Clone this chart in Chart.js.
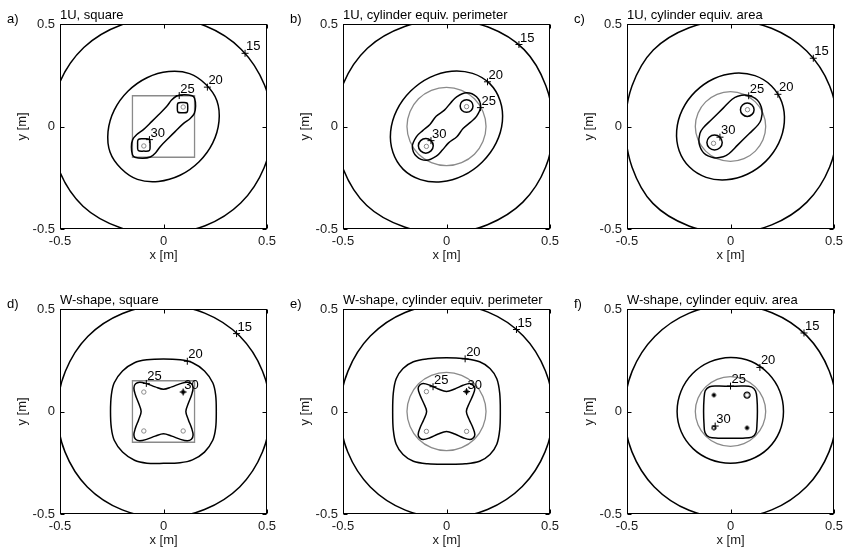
<!DOCTYPE html>
<html>
<head>
<meta charset="utf-8">
<script src="https://cdn.jsdelivr.net/npm/chart.js@4/dist/chart.umd.min.js"></script>
<style>
  html, body { margin: 0; padding: 0; background: #fff; width: 844px; height: 556px; overflow: hidden; }
  canvas.panel { position: absolute; }
</style>
</head>
<body>
<canvas id="pa" class="panel" width="283" height="270" style="left:0px;top:0px"></canvas>
<canvas id="pb" class="panel" width="283" height="270" style="left:283px;top:0px"></canvas>
<canvas id="pc" class="panel" width="283" height="270" style="left:567px;top:0px"></canvas>
<canvas id="pd" class="panel" width="283" height="270" style="left:0px;top:285px"></canvas>
<canvas id="pe" class="panel" width="283" height="270" style="left:283px;top:285px"></canvas>
<canvas id="pf" class="panel" width="283" height="270" style="left:567px;top:285px"></canvas>
<script>
// ---- contour levels, axes, panel captions ----
const levels = [15, 20, 25, 30];
const axisTicks = [-0.5, 0, 0.5];
const panelLetters = ['a)', 'b)', 'c)', 'd)', 'e)', 'f)'];
const panelTitles = [
  '1U, square',
  '1U, cylinder equiv. perimeter',
  '1U, cylinder equiv. area',
  'W-shape, square',
  'W-shape, cylinder equiv. perimeter',
  'W-shape, cylinder equiv. area'
];

// ---- a) 1U, square ----
const a15 = [[0.525,0],[0.488,0.202],[0.376,0.376],[0.203,0.490],[0,0.528],[-0.205,0.495],[-0.385,0.385],[-0.504,0.209],[-0.545,0],[-0.506,-0.210],[-0.389,-0.389],[-0.205,-0.495],[0,-0.522],[0.201,-0.484],[0.373,-0.373],[0.486,-0.201]];
const a20 = [[0.205,0.205],[0.126,0.258],[0.025,0.268],[-0.080,0.238],[-0.172,0.172],[-0.238,0.080],[-0.268,-0.025],[-0.258,-0.126],[-0.205,-0.205],[-0.126,-0.258],[-0.025,-0.268],[0.080,-0.238],[0.172,-0.172],[0.238,-0.080],[0.268,0.025],[0.258,0.126]];
const a25 = [[0.149,0.064],[0.155,0.100],[0.150,0.138],[0.138,0.150],[0.100,0.155],[0.064,0.149],[0.039,0.129],[0.015,0.097],[-0.025,0.056],[-0.056,0.025],[-0.097,-0.015],[-0.129,-0.039],[-0.149,-0.064],[-0.155,-0.100],[-0.150,-0.138],[-0.138,-0.150],[-0.100,-0.155],[-0.064,-0.149],[-0.039,-0.129],[-0.015,-0.097],[0.025,-0.056],[0.056,-0.025],[0.097,0.015],[0.129,0.039]];
const a30 = [
  [[0.117,0.092],[0.114,0.114],[0.092,0.117],[0.070,0.114],[0.067,0.092],[0.070,0.070],[0.092,0.067],[0.114,0.070]],
  [[-0.065,-0.090],[-0.068,-0.063],[-0.095,-0.060],[-0.122,-0.063],[-0.125,-0.090],[-0.122,-0.117],[-0.095,-0.120],[-0.068,-0.117]]
];
const aBody = [[-0.15,-0.15],[0.15,-0.15],[0.15,0.15],[-0.15,0.15]];
const aRods = [[0.095,0.095],[-0.095,-0.095]];
const aDots = [];
const aLabels = [[0.394,0.357],[0.212,0.192],[0.076,0.151],[-0.068,-0.064]];

// ---- b) 1U, cylinder equiv. perimeter ----
const b15 = [[0.515,0],[0.480,0.199],[0.375,0.375],[0.201,0.485],[0,0.520],[-0.202,0.488],[-0.382,0.382],[-0.499,0.207],[-0.535,0],[-0.499,-0.207],[-0.385,-0.385],[-0.203,-0.490],[0,-0.520],[0.198,-0.479],[0.369,-0.369],[0.479,-0.198]];
const b20 = [[0.209,0.209],[0.126,0.259],[0.025,0.270],[-0.080,0.240],[-0.173,0.173],[-0.240,0.080],[-0.270,-0.025],[-0.259,-0.126],[-0.209,-0.209],[-0.126,-0.259],[-0.025,-0.270],[0.080,-0.240],[0.173,-0.173],[0.240,-0.080],[0.270,0.025],[0.259,0.126]];
const b25 = [[0.145,0.049],[0.165,0.097],[0.145,0.145],[0.097,0.165],[0.049,0.145],[0.020,0.115],[-0.010,0.080],[-0.050,0.050],[-0.080,0.010],[-0.115,-0.020],[-0.145,-0.049],[-0.165,-0.097],[-0.145,-0.145],[-0.097,-0.165],[-0.049,-0.145],[-0.020,-0.115],[0.010,-0.080],[0.050,-0.050],[0.080,-0.010],[0.115,0.020]];
const b30 = [
  [[0.128,0.100],[0.119,0.122],[0.097,0.131],[0.075,0.122],[0.066,0.100],[0.075,0.078],[0.097,0.069],[0.119,0.078]],
  [[-0.064,-0.094],[-0.075,-0.069],[-0.100,-0.058],[-0.125,-0.069],[-0.136,-0.094],[-0.125,-0.119],[-0.100,-0.130],[-0.075,-0.119]]
];
const bBody = [[0.191,0],[0.176,0.073],[0.135,0.135],[0.073,0.176],[0,0.191],[-0.073,0.176],[-0.135,0.135],[-0.176,0.073],[-0.191,0],[-0.176,-0.073],[-0.135,-0.135],[-0.073,-0.176],[0,-0.191],[0.073,-0.176],[0.135,-0.135],[0.176,-0.073]];
const bRods = [[0.097,0.097],[-0.097,-0.097]];
const bDots = [];
const bLabels = [[0.350,0.400],[0.198,0.218],[0.164,0.092],[-0.075,-0.069]];

// ---- c) 1U, cylinder equiv. area ----
const c15 = [[0.516,0],[0.479,0.198],[0.368,0.368],[0.198,0.479],[0,0.517],[-0.200,0.482],[-0.373,0.373],[-0.476,0.197],[-0.507,0],[-0.476,-0.197],[-0.375,-0.375],[-0.201,-0.485],[0,-0.520],[0.199,-0.480],[0.369,-0.369],[0.479,-0.198]];
const c20 = [[0.198,0.198],[0.118,0.248],[0.020,0.260],[-0.081,0.233],[-0.170,0.170],[-0.233,0.081],[-0.260,-0.020],[-0.248,-0.118],[-0.198,-0.198],[-0.118,-0.248],[-0.020,-0.260],[0.081,-0.233],[0.170,-0.170],[0.233,-0.081],[0.260,0.020],[0.248,0.118]];
const c25 = [[0.129,0.129],[0.081,0.152],[0.035,0.148],[0.008,0.133],[-0.034,0.091],[-0.091,0.034],[-0.133,-0.008],[-0.148,-0.035],[-0.152,-0.081],[-0.129,-0.129],[-0.081,-0.152],[-0.035,-0.148],[-0.008,-0.133],[0.034,-0.091],[0.091,-0.034],[0.133,0.008],[0.148,0.035],[0.152,0.081]];
const c30 = [
  [[0.114,0.082],[0.104,0.105],[0.081,0.115],[0.058,0.105],[0.048,0.082],[0.058,0.059],[0.081,0.049],[0.104,0.059]],
  [[-0.040,-0.078],[-0.051,-0.052],[-0.077,-0.041],[-0.103,-0.052],[-0.114,-0.078],[-0.103,-0.104],[-0.077,-0.115],[-0.051,-0.104]]
];
const cBody = [[0.170,0],[0.157,0.065],[0.120,0.120],[0.065,0.157],[0,0.170],[-0.065,0.157],[-0.120,0.120],[-0.157,0.065],[-0.170,0],[-0.157,-0.065],[-0.120,-0.120],[-0.065,-0.157],[0,-0.170],[0.065,-0.157],[0.120,-0.120],[0.157,-0.065]];
const cRods = [[0.082,0.082],[-0.082,-0.082]];
const cDots = [];
const cLabels = [[0.400,0.333],[0.229,0.157],[0.088,0.150],[-0.051,-0.052]];

// ---- d) W-shape, square ----
const d15 = [[0.516,0],[0.478,0.198],[0.368,0.368],[0.199,0.480],[0,0.518],[-0.198,0.478],[-0.366,0.366],[-0.474,0.196],[-0.513,0],[-0.476,-0.197],[-0.368,-0.368],[-0.199,-0.480],[0,-0.518],[0.198,-0.478],[0.368,-0.368],[0.478,-0.198]];
const d20 = [[0.255,0],[0.252,0.080],[0.238,0.140],[0.198,0.198],[0.140,0.238],[0.080,0.252],[0,0.256],[-0.080,0.252],[-0.140,0.238],[-0.198,0.198],[-0.238,0.140],[-0.252,0.080],[-0.256,0],[-0.252,-0.080],[-0.238,-0.140],[-0.198,-0.198],[-0.140,-0.238],[-0.080,-0.252],[0,-0.253],[0.080,-0.250],[0.140,-0.236],[0.198,-0.198],[0.238,-0.140],[0.252,-0.080]];
const d25 = [
  [0.108,0],[0.120,0.040],[0.136,0.082],[0.143,0.115],[0.135,0.135],[0.115,0.143],[0.082,0.136],[0.040,0.120],
  [0,0.108],[-0.040,0.120],[-0.082,0.136],[-0.115,0.143],[-0.135,0.135],[-0.143,0.115],[-0.136,0.082],[-0.120,0.040],
  [-0.108,0],[-0.120,-0.040],[-0.136,-0.082],[-0.143,-0.115],[-0.135,-0.135],[-0.115,-0.143],[-0.082,-0.136],[-0.040,-0.120],
  [0,-0.108],[0.040,-0.120],[0.082,-0.136],[0.115,-0.143],[0.135,-0.135],[0.143,-0.115],[0.136,-0.082],[0.120,-0.040]
];
const d30 = [];
const dBody = [[-0.15,-0.15],[0.15,-0.15],[0.15,0.15],[-0.15,0.15]];
const dRods = [[-0.095,0.095],[0.095,0.095],[-0.095,-0.095],[0.095,-0.095]];
const dDots = [[0.095,0.095]];
const dLabels = [[0.353,0.380],[0.115,0.245],[-0.083,0.137],[0.095,0.095]];

// ---- e) W-shape, cylinder equiv. perimeter ----
const e15 = [[0.515,0],[0.478,0.198],[0.370,0.370],[0.201,0.485],[0,0.522],[-0.200,0.483],[-0.368,0.368],[-0.476,0.197],[-0.515,0],[-0.477,-0.198],[-0.368,-0.368],[-0.199,-0.481],[0,-0.518],[0.198,-0.478],[0.366,-0.366],[0.476,-0.197]];
const e20 = [[0.260,0],[0.257,0.090],[0.243,0.160],[0.210,0.210],[0.160,0.243],[0.090,0.257],[0,0.262],[-0.090,0.257],[-0.160,0.243],[-0.210,0.210],[-0.243,0.160],[-0.257,0.090],[-0.260,0],[-0.257,-0.090],[-0.243,-0.160],[-0.210,-0.210],[-0.160,-0.243],[-0.090,-0.255],[0,-0.257],[0.090,-0.255],[0.160,-0.243],[0.210,-0.210],[0.243,-0.160],[0.257,-0.090]];
const e25 = [
  [0.096,0],[0.110,0.040],[0.128,0.080],[0.137,0.112],[0.129,0.129],[0.112,0.137],[0.080,0.128],[0.040,0.110],
  [0,0.098],[-0.040,0.110],[-0.080,0.128],[-0.112,0.137],[-0.129,0.129],[-0.137,0.112],[-0.128,0.080],[-0.110,0.040],
  [-0.096,0],[-0.110,-0.040],[-0.128,-0.080],[-0.137,-0.112],[-0.129,-0.129],[-0.112,-0.137],[-0.080,-0.128],[-0.040,-0.110],
  [0,-0.098],[0.040,-0.110],[0.080,-0.128],[0.112,-0.137],[0.129,-0.129],[0.137,-0.112],[0.128,-0.080],[0.110,-0.040]
];
const e30 = [];
const eBody = [[0.191,0],[0.176,0.073],[0.135,0.135],[0.073,0.176],[0,0.191],[-0.073,0.176],[-0.135,0.135],[-0.176,0.073],[-0.191,0],[-0.176,-0.073],[-0.135,-0.135],[-0.073,-0.176],[0,-0.191],[0.073,-0.176],[0.135,-0.135],[0.176,-0.073]];
const eRods = [[-0.097,0.097],[0.097,0.097],[-0.097,-0.097],[0.097,-0.097]];
const eDots = [[0.097,0.097]];
const eLabels = [[0.338,0.400],[0.090,0.257],[-0.065,0.121],[0.097,0.097]];

// ---- f) W-shape, cylinder equiv. area ----
const f15 = [[0.514,0],[0.477,0.198],[0.369,0.369],[0.200,0.482],[0,0.520],[-0.199,0.480],[-0.366,0.366],[-0.475,0.197],[-0.513,0],[-0.476,-0.197],[-0.368,-0.368],[-0.200,-0.482],[0,-0.520],[0.199,-0.480],[0.367,-0.367],[0.476,-0.197]];
const f20 = [[0.256,0],[0.238,0.099],[0.184,0.184],[0.101,0.244],[0,0.264],[-0.100,0.242],[-0.184,0.184],[-0.239,0.099],[-0.258,0],[-0.238,-0.099],[-0.181,-0.181],[-0.097,-0.234],[0,-0.252],[0.097,-0.234],[0.181,-0.181],[0.237,-0.098]];
const f25 = [[0.130,0],[0.128,0.060],[0.121,0.100],[0.101,0.120],[0.060,0.124],[0,0.123],[-0.060,0.124],[-0.101,0.121],[-0.122,0.101],[-0.128,0.060],[-0.130,0],[-0.128,-0.060],[-0.123,-0.104],[-0.103,-0.125],[-0.060,-0.130],[0,-0.131],[0.060,-0.130],[0.103,-0.125],[0.123,-0.104],[0.128,-0.060]];
const f30 = [
  [[0.094,0.080],[0.090,0.090],[0.080,0.094],[0.070,0.090],[0.066,0.080],[0.070,0.070],[0.080,0.066],[0.090,0.070]],
  [[-0.071,-0.080],[-0.074,-0.074],[-0.080,-0.071],[-0.086,-0.074],[-0.089,-0.080],[-0.086,-0.086],[-0.080,-0.089],[-0.074,-0.086]]
];
const fBody = [[0.170,0],[0.157,0.065],[0.120,0.120],[0.065,0.157],[0,0.170],[-0.065,0.157],[-0.120,0.120],[-0.157,0.065],[-0.170,0],[-0.157,-0.065],[-0.120,-0.120],[-0.065,-0.157],[0,-0.170],[0.065,-0.157],[0.120,-0.120],[0.157,-0.065]];
const fRods = [[-0.080,0.080],[0.080,0.080],[-0.080,-0.080],[0.080,-0.080]];
const fDots = [[-0.080,0.080],[0.080,-0.080]];
const fLabels = [[0.355,0.383],[0.142,0.215],[0.000,0.124],[-0.074,-0.071]];

// ---- styling ----
const INK = '#000';
const GRAY = '#8a8a8a';
const FONT = '"Liberation Sans", Arial, Helvetica, sans-serif';
Chart.defaults.font.family = FONT;
Chart.defaults.font.size = 13;
Chart.defaults.color = '#1a1a1a';

// Line controller variant that closes the path smoothly (iso-lines are closed curves)
const BaseLine = Chart.LineController || Chart.controllers.line;
class ContourController extends BaseLine {
  update(mode) {
    const line = this._cachedMeta.dataset;
    if (line) { line._loop = true; line._fullLoop = true; }
    super.update(mode);
  }
}
ContourController.id = 'contour';
ContourController.defaults = { datasetElementType: 'line', dataElementType: 'point', showLine: true, spanGaps: false };
Chart.register(ContourController);

const xy = list => list.map(([x, y]) => ({ x, y }));

// axes box with inward ticks, panel letter, and the contour level numbers
const framePlugin = {
  id: 'frame',
  afterDatasetsDraw(chart) {
    const { ctx } = chart;
    chart.data.datasets.forEach((ds, i) => {
      if (!ds.levelTags) return;
      const meta = chart.getDatasetMeta(i);
      ctx.save();
      ctx.fillStyle = INK;
      ctx.font = '13px ' + FONT;
      ctx.textAlign = 'left';
      ctx.textBaseline = 'alphabetic';
      meta.data.forEach((pt, k) => ctx.fillText(String(ds.levelTags[k]), pt.x + 1, pt.y - 3));
      ctx.restore();
    });
  },
  afterDraw(chart, args, opts) {
    const { ctx, chartArea: a, scales: { x, y } } = chart;
    ctx.save();
    ctx.strokeStyle = INK;
    ctx.lineWidth = 1;
    const L = Math.round(a.left) + 0.5, R = Math.round(a.right) - 0.5;
    const T = Math.round(a.top) + 0.5, B = Math.round(a.bottom) - 0.5;
    ctx.strokeRect(L, T, R - L, B - T);
    ctx.beginPath();
    x.ticks.forEach(t => {
      const p = Math.round(x.getPixelForValue(t.value)) + 0.5;
      ctx.moveTo(p, B); ctx.lineTo(p, B - 4);
      ctx.moveTo(p, T); ctx.lineTo(p, T + 4);
    });
    y.ticks.forEach(t => {
      const p = Math.round(y.getPixelForValue(t.value)) + 0.5;
      ctx.moveTo(L, p); ctx.lineTo(L + 4, p);
      ctx.moveTo(R, p); ctx.lineTo(R - 4, p);
    });
    ctx.stroke();
    ctx.fillStyle = INK;
    ctx.font = '13px ' + FONT;
    ctx.textAlign = 'left';
    ctx.textBaseline = 'middle';
    ctx.fillText(opts.letter, 7, 19);
    ctx.restore();
  }
};

function contourSet(points, color, width) {
  return {
    type: 'contour', data: xy(points), borderColor: color, borderWidth: width,
    pointRadius: 0, tension: 0.35, capBezierPoints: false, fill: false
  };
}

function buildPanel(canvasId, idx, p) {
  const datasets = [];
  datasets.push({
    type: 'line', data: xy(p.labels), showLine: false, levelTags: levels,
    pointStyle: 'cross', pointRadius: 3.5, borderColor: INK, borderWidth: 1
  });
  datasets.push({
    type: 'line', data: xy(p.rods), showLine: false,
    pointStyle: 'circle', pointRadius: 2.2, borderColor: GRAY,
    backgroundColor: 'rgba(0,0,0,0)', borderWidth: 1
  });
  if (p.dots.length) {
    datasets.push({
      type: 'line', data: xy(p.dots), showLine: false,
      pointStyle: 'circle', pointRadius: 1.6, borderColor: INK,
      backgroundColor: INK, borderWidth: 1
    });
  }
  p.c30.forEach(loop => datasets.push(contourSet(loop, INK, 1.5)));
  datasets.push(contourSet(p.c25, INK, 1.5));
  datasets.push(contourSet(p.c20, INK, 1.5));
  datasets.push(contourSet(p.c15, INK, 1.5));
  const body = contourSet(p.body, GRAY, 1.3);
  if (p.body.length === 4) body.tension = 0;
  datasets.push(body);

  new Chart(document.getElementById(canvasId), {
    type: 'line',
    data: { datasets },
    options: {
      responsive: false,
      animation: false,
      events: [],
      layout: { padding: { left: 0, right: 16, top: 0, bottom: 7 } },
      plugins: {
        legend: { display: false },
        tooltip: { enabled: false },
        title: {
          display: true, text: panelTitles[idx], align: 'start', fullSize: false,
          color: INK, font: { size: 13, weight: 'normal' }, padding: { top: 7.5, bottom: 0.9 }
        },
        frame: { letter: panelLetters[idx] }
      },
      scales: {
        x: {
          type: 'linear', min: axisTicks[0], max: axisTicks[2],
          ticks: { stepSize: 0.5, padding: 5, maxRotation: 0, autoSkip: false, callback: v => String(v) },
          grid: { display: false, drawTicks: false },
          border: { display: false },
          title: { display: true, text: 'x [m]', padding: { top: 0, bottom: 0 } },
          afterFit: s => { s.height = 34; }
        },
        y: {
          type: 'linear', min: axisTicks[0], max: axisTicks[2],
          ticks: { stepSize: 0.5, padding: 5, autoSkip: false, callback: v => String(v) },
          grid: { display: false, drawTicks: false },
          border: { display: false },
          title: { display: true, text: 'y [m]', padding: { top: 15, bottom: 0 } },
          afterFit: s => { s.width = 60; }
        }
      }
    },
    plugins: [framePlugin]
  });
}

buildPanel('pa', 0, { c15: a15, c20: a20, c25: a25, c30: a30, body: aBody, rods: aRods, dots: aDots, labels: aLabels });
buildPanel('pb', 1, { c15: b15, c20: b20, c25: b25, c30: b30, body: bBody, rods: bRods, dots: bDots, labels: bLabels });
buildPanel('pc', 2, { c15: c15, c20: c20, c25: c25, c30: c30, body: cBody, rods: cRods, dots: cDots, labels: cLabels });
buildPanel('pd', 3, { c15: d15, c20: d20, c25: d25, c30: d30, body: dBody, rods: dRods, dots: dDots, labels: dLabels });
buildPanel('pe', 4, { c15: e15, c20: e20, c25: e25, c30: e30, body: eBody, rods: eRods, dots: eDots, labels: eLabels });
buildPanel('pf', 5, { c15: f15, c20: f20, c25: f25, c30: f30, body: fBody, rods: fRods, dots: fDots, labels: fLabels });
</script>
</body>
</html>
